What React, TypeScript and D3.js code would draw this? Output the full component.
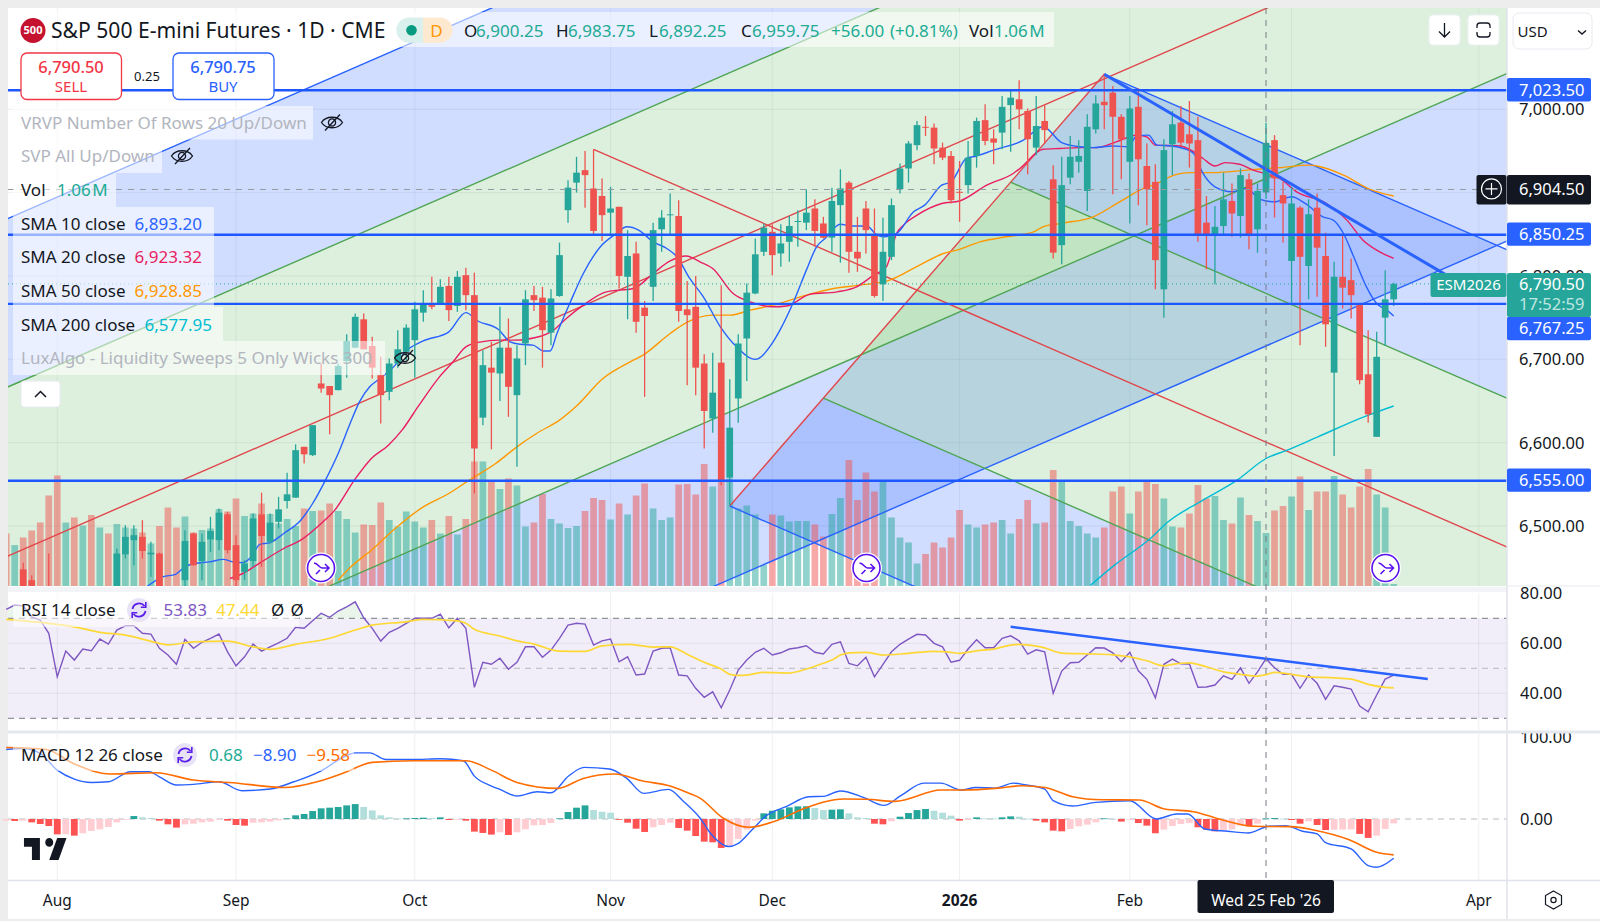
import * as d3 from "d3"

// daily bars, Aug 2025 to Mar 2026
const opens = [6420,6400,6448,6435,6415,6420,6405,6385,6400,6390,6410,6400,6420,6423,6466,6483,6487,6466,6467,6425,6420,6435,6491,6458,6484,6483,6514,6477,6445,6458,6514,6481,6505,6530,6534,6595,6585,6671,6668,6663,6698,6714,6748,6716,6681,6661,6695,6709,6723,6756,6765,6766,6788,6764,6801,6777,6630,6690,6683,6714,6657,6719,6777,6774,6732,6776,6879,6912,6927,6905,6896,6876,6883,6799,6827,6762,6787,6856,6873,6872,6760,6763,6695,6629,6696,6558,6653,6725,6779,6829,6853,6827,6841,6865,6864,6881,6863,6846,6885,6912,6829,6881,6848,6790,6823,6904,6929,6957,6979,6978,6954,6944,6901,6909,6944,6987,6965,6972,7005,7012,6998,6954,6986,6916,6837,6918,6937,6902,6976,7009,7020,6991,6937,7003,6932,6913,6784,6958,6984,6970,6963,6864,6850,6860,6890,6872,6916,6856,6900.25,6963,6897,6818,6882,6812,6882,6824,6684,6799,6795,6765,6682,6607,6750,6772]
const highs = [6425,6420,6456,6441,6420,6467,6415,6410,6405,6415,6420,6425,6425,6473,6501,6501,6507,6481,6468,6428,6425,6495,6492,6491,6511,6521,6517,6489,6459,6515,6540,6515,6535,6564,6598,6595,6621,6695,6668,6695,6730,6755,6755,6727,6703,6701,6735,6742,6769,6783,6799,6796,6799,6806,6810,6804,6711,6721,6763,6749,6717,6783,6788,6787,6784,6840,6915,6943,6950,6952,6917,6907,6883,6855,6841,6770,6864,6879,6899,6891,6794,6800,6706,6708,6789,6676,6730,6791,6845,6863,6862,6862,6872,6879,6904,6892,6871,6906,6928,6914,6871,6890,6881,6870,6893,6935,6962,6986,6992,6983,6960,6950,6938,6962,6990,7006,6976,7016,7024,7035,7001,7016,7005,6933,6943,6968,6963,6994,7017,7043,7028,6994,7016,7025,6959,6934,6964,6998,7004,7010,6991,6896,6884,6924,6911,6929,6923,6911,6983.75,6969,6913,6907,6884,6892,6899,6852,6817,6851,6821,6767,6735,6733,6807,6792]
const lows = [6395,6395,6411,6400,6390,6390,6380,6380,6380,6385,6395,6395,6400,6415,6461,6453,6461,6439,6410,6400,6400,6420,6452,6435,6469,6471,6467,6420,6435,6451,6451,6479,6497,6521,6534,6575,6584,6660,6610,6663,6678,6714,6712,6677,6623,6651,6690,6699,6678,6745,6760,6766,6746,6757,6759,6539,6621,6592,6650,6631,6571,6693,6758,6690,6717,6775,6864,6900,6882,6849,6842,6849,6785,6748,6732,6655,6770,6829,6849,6745,6669,6657,6593,6612,6549,6525,6624,6674,6778,6824,6801,6811,6817,6835,6855,6835,6845,6829,6816,6804,6805,6827,6774,6770,6819,6899,6912,6951,6968,6934,6939,6887,6865,6899,6930,6957,6934,6952,6949,6976,6922,6945,6959,6821,6814,6910,6924,6878,6971,6976,6898,6916,6863,6885,6861,6784,6750,6921,6956,6930,6841,6808,6790,6848,6847,6846,6832,6828,6892.25,6870,6840,6766,6717,6772,6775,6715,6584,6761,6749,6670,6624,6607,6716,6764]
const closes = [6405,6415,6423,6411,6400,6400,6390,6400,6390,6410,6400,6420,6405,6467,6487,6489,6470,6468,6423,6410,6405,6482,6453,6481,6494,6516,6471,6435,6455,6509,6488,6504,6520,6538,6591,6586,6621,6665,6657,6692,6722,6751,6712,6690,6657,6695,6712,6738,6760,6766,6763,6787,6759,6799,6777,6593,6693,6684,6714,6667,6701,6772,6771,6735,6773,6825,6906,6924,6921,6854,6873,6881,6800,6824,6745,6752,6855,6870,6874,6758,6753,6690,6638,6660,6553,6618,6719,6780,6826,6858,6825,6839,6860,6866,6876,6854,6846,6890,6905,6829,6821,6855,6776,6829,6885,6929,6959,6981,6978,6953,6942,6891,6900,6942,6986,6962,6960,7003,7014,7000,6964,6980,6975,6828,6909,6943,6944,6979,7007,7005,6991,6964,7001,6940,6904,6819,6951,6982,6960,6959,6848,6848,6859,6892,6875,6921,6849,6902,6959.75,6917,6887,6887,6823,6874,6834,6742,6799,6786,6777,6675,6634,6703,6772,6790.5]
// volume in millions
const volumes = [1.05,.82,.97,1.11,1.27,1.81,2.21,1.27,1.37,1.21,1.42,1.17,1.05,1.24,1.17,1.15,1.07,.85,1.2,1.57,1.17,1.39,1.07,1.12,1.15,1.54,1.49,1.75,1.4,1.45,1.65,1.44,1.25,1.34,1.2,1.55,1.5,1.51,1.65,1.5,1.34,1.07,1.23,1.22,1.67,1.32,1.19,1.49,1.29,1.17,1.32,1.05,1.4,1.03,1.34,2.49,2.49,2.09,1.94,2.15,2.01,1.19,1.27,1.84,1.34,1.25,1.16,1.2,1.5,1.76,1.72,1.33,1.65,1.43,1.81,2.05,1.55,1.32,1.37,2.03,2.04,1.83,2.44,1.99,2.12,2.15,1.55,1.61,1.43,.42,1.43,1.41,1.29,1.3,1.3,1.23,.99,1.44,1.76,2.52,1.72,2.27,1.89,2.11,1.37,.97,.87,.45,.64,.87,.77,.97,1.52,1.23,1.17,1.23,1.27,1.32,1.05,1.34,1.72,1.25,1.27,2.32,2.11,1.3,1.2,1.05,.97,1.17,1.89,1.99,1.45,1.89,2.09,2.04,1.75,1.19,1.17,1.45,2.02,1.75,1.8,1.32,1.25,1.77,1.42,1.3,1.06,1.51,1.6,1.79,2.19,1.52,1.89,1.89,2.2,1.83,1.57,1.99,2.34,1.83,1.57,.04]

// moving averages as [bar, value]
const sma10: [number, number][] = [[16,6423],[18.4,6439],[19.9,6442],[21,6451],[22.1,6455],[23.9,6457],[25.5,6460],[26.6,6457],[27.8,6456],[28.8,6463],[29.8,6478],[31,6480],[32.6,6491],[34.6,6507],[36,6527],[37.4,6553],[39,6587],[40.4,6623],[41.5,6649],[42.7,6667],[43.9,6677],[45.7,6693],[46.9,6709],[49,6722],[52,6733],[54,6756],[55.4,6746],[57.8,6736],[59.2,6721],[60.4,6718],[61.9,6717],[63.1,6710],[63.9,6710],[64.7,6731],[66.2,6767],[67.8,6803],[69.8,6835],[71.7,6851],[72.9,6859],[74.3,6855],[76,6841],[77.6,6833],[78.8,6823],[80.3,6797],[81.9,6775],[83.9,6739],[85.8,6715],[88,6700],[89.9,6718],[90.9,6735],[92.5,6769],[94,6807],[95.2,6835],[96.2,6845],[98,6862],[99.3,6860],[101.1,6860],[102.3,6849],[103.1,6847],[104.6,6851],[106.6,6877],[107.9,6885],[109.9,6909],[111,6913],[112.8,6941],[114,6944],[116,6951],[119.5,6963],[121.8,6979],[124,6960],[126.1,6955],[127.7,6954],[130,6956],[131.8,6955],[132.8,6968],[134.2,6969],[135.2,6957],[136.9,6956],[138.3,6953],[139.5,6947],[140.6,6923],[142,6907],[144,6901],[145.7,6905],[147.3,6892],[149,6889],[151,6895],[152.6,6887],[154.7,6871],[155.9,6867],[157.1,6851],[158.3,6823],[159.8,6787],[161,6767],[162.2,6759],[163,6752]]
const sma20: [number, number][] = [[26.3,6437],[27.8,6443],[30,6457],[32.6,6473],[34.6,6483],[37,6503],[38.6,6519],[40.9,6555],[42.9,6581],[44.9,6597],[46.5,6615],[48.5,6645],[50.9,6679],[52.5,6697],[54,6715],[55.8,6721],[57.8,6723],[59.6,6723],[62.9,6728],[64.3,6735],[65.8,6749],[67.8,6765],[70.5,6781],[73.7,6785],[76,6803],[78,6818],[79.9,6824],[81.5,6817],[83,6809],[85.4,6779],[87.4,6769],[90.1,6763],[91.7,6764],[94.4,6778],[97.6,6781],[99.9,6787],[101.9,6801],[103.4,6811],[104.6,6851],[105.4,6861],[107,6873],[109.9,6887],[112,6890],[115.2,6909],[118.3,6923],[119.1,6929],[121.8,6952],[123.8,6953],[126.1,6954],[128.1,6954],[130.4,6961],[132.8,6969],[134,6967],[135,6957],[137.9,6956],[139.5,6949],[140.6,6941],[142,6932],[143.2,6936],[144.9,6934],[146.5,6927],[148.5,6921],[149.6,6917],[151.6,6901],[155.1,6887],[157.5,6867],[159.4,6843],[161,6831],[163,6821]]
const sma50: [number, number][] = [[39,6435],[40.5,6451],[42.9,6471],[45.7,6497],[49,6523],[52,6539],[54.4,6555],[57.5,6575],[60,6595],[62.3,6611],[65,6627],[67,6644],[70.1,6677],[73.3,6697],[74.8,6705],[78,6731],[79.9,6744],[83,6753],[85,6753],[87.4,6759],[90.1,6765],[94,6777],[97.2,6785],[100.3,6789],[103.8,6795],[107.3,6813],[110.1,6827],[112,6832],[114.4,6841],[117.5,6847],[120.7,6853],[121.8,6859],[123.8,6863],[127.7,6871],[130.8,6889],[133.6,6905],[135.2,6911],[136.7,6919],[139.1,6924],[141.8,6924],[145.7,6927],[149.6,6930],[153.2,6933],[154,6932],[157.1,6921],[160.2,6904],[163,6896]]
const sma200: [number, number][] = [[127.4,6429],[130.2,6453],[134.3,6484],[136.5,6505],[140.6,6531],[144.6,6555],[148,6581],[150.5,6591],[154.1,6607],[159.5,6631],[163,6644]]

const rsi = [73.6,75.3,75,70.6,69.3,64,46.6,56.9,53.3,57.7,57,61.7,59.7,65.3,67,67,64,63.7,58,55.3,51.6,61.6,58,60.4,62,63.7,56.6,51,54.6,59.7,56.9,58.6,60.2,62,66.4,66,69,72,70.4,72.9,74.6,76.6,70.2,66,60.9,64.4,66,68,70,70,70,71.7,66.2,70,66,42.4,52.4,51.6,54,49.6,52.4,58.6,58.6,54.4,57.3,62,67.3,68,67.7,59.3,61,61.7,52.6,54.6,47.3,47.7,56.9,58,58.2,47.3,47,42,38.4,40.6,34.2,41.3,49.3,53.3,56.4,58,55.3,56.2,57.7,58.2,59,56.4,55.7,59.6,60.6,52,51,54.4,46.6,51.6,56.6,59.6,61.7,63.6,63.3,60,58.6,52.4,53.2,57.7,61.4,58.2,58.2,62,63,61,55.7,57.4,56.6,40,48.9,52.2,52.4,55.3,58.2,58.1,56.2,52.6,56.4,49,45.6,38.2,51.6,53.7,51.8,51.7,42.4,42.5,43.3,47,45.6,50.2,44,48.6,53.83,50.2,47.6,47.6,42,47.3,44,37.6,43,42.4,41.7,34.9,32.6,39.3,45.7,47.3]
const rsiMa: [number, number][] = [[0,69.6],[5,68],[8,66.6],[11,64.4],[14,63.3],[18,60],[19,59.4],[22,60.6],[26,60.9],[29,58.6],[31,57.6],[34,59.6],[38,62],[41,65.3],[43,67.3],[47,68.6],[49,69.6],[53,69],[54,68],[55,65.6],[58,62.9],[60,61],[62,59.7],[65,56.9],[68,56.8],[70,59],[73,59.6],[76,58.5],[78,58.6],[80,55.6],[82,52.4],[84,49.7],[85,47.6],[86,47.2],[87,47.3],[89,48.4],[92,48.1],[94,49.7],[96,52],[97,53.3],[98,55.3],[99,56.2],[101,56.4],[103,55.3],[106,56],[109,56.8],[111,56.4],[112,56],[114,57],[116,57.7],[118,59.3],[119,59.6],[121,58.9],[122,58.2],[124,56.1],[127,55.8],[130,55.4],[132,54.6],[134,53],[136,51],[137,51.6],[139,52.2],[141,50.6],[143,48.6],[145,47.6],[147,46.9],[148,47.44],[149,48.4],[151,47.6],[153,46.6],[156,46.2],[158,45.7],[160,43.6],[162,42.4],[163,42.2]]

const macdLine: [number, number][] = [[0,84.8],[2,86],[4,79.9],[6,59.6],[8,48.7],[10,44.6],[12,45.4],[14.6,57.6],[16.8,57.6],[18,51.5],[20,41.4],[22,42.2],[25,45.4],[27.7,34.5],[31,36.5],[33.8,45.4],[37,58.8],[39.7,75.9],[41,80.7],[42.7,80.7],[44.6,72.6],[47.8,72.6],[51,73.4],[53.7,71],[55,52.3],[57,40.2],[58,36.1],[60,28],[62.4,33.3],[64,32],[66.1,52.7],[67.9,62.9],[70.9,60.9],[72.9,49.5],[74.9,31.3],[77.8,36.1],[79.6,21.1],[81.5,1.2],[82.8,-18.2],[84.9,-33.6],[85.9,-30.4],[87.6,-13.4],[89.3,4.1],[91.6,15],[94.3,27.2],[96,27.6],[98,34.1],[100.7,26.4],[103.1,16.6],[105.1,28.4],[107.8,43.8],[109.8,43.8],[112.2,35.3],[113.9,38.5],[116.2,37.7],[118.3,43.8],[119.6,41.8],[122,36.5],[123,22.3],[125.3,15.8],[128,20.3],[132,22.3],[135.1,0],[137.5,6.1],[138.8,6.1],[140.8,-12.2],[143.5,-15],[145.9,-17],[148.3,-8.9],[150.3,-8.1],[152.3,-15],[154,-18.2],[155,-28.8],[158,-36.5],[160,-56.8],[161,-58.8],[163,-47.9]]
const macdSignal: [number, number][] = [[0,87.2],[4.7,84.8],[7.9,67.7],[12.2,54.8],[17.6,56.4],[22,47.5],[26.2,44.6],[32.7,38.5],[36.5,45.4],[39.7,56.4],[43,69],[47.8,71],[54,71],[57,59.6],[60,44.6],[64.8,37.3],[67.8,49.5],[71.5,54.8],[74.8,46.3],[78,40.2],[80.2,31.3],[81.5,25.5],[84.2,1.2],[87.2,-10.1],[90.3,-2.8],[93.6,12.2],[98.4,24.3],[101,24],[104.4,21.5],[109.8,35.3],[112.5,35.3],[116.6,37.7],[119.3,40.6],[122,38.5],[125.3,27.2],[128.7,23.5],[133.1,23.1],[136.1,12.2],[139.5,8.9],[142.5,0],[146.6,-8.9],[151,-9.3],[153.6,-13.4],[157.7,-25.1],[161,-40.6],[163,-43.8]]
const macdHist = [-2,-2.4,-2,-4.1,-6.1,-8.5,-18.7,-18.6,-20.3,-17.4,-14.6,-12.6,-9.7,-4.1,-.8,3.6,2,1.2,-2,-6.5,-10.5,-6.5,-5.7,-4.1,-3.2,-.4,-2,-7.3,-8.1,-4.5,-4.1,-3.2,-1.6,.8,4.5,6.1,9.7,13,13.8,14.6,16.6,18.2,14.6,10.5,4.5,2,.6,.8,1.2,1.6,1.2,2,-1.2,-.4,-2,-15.4,-17,-19,-16.2,-19.5,-16.2,-12.6,-7.7,-7.3,-4.9,.8,8.5,13.8,16.6,10.9,8.9,7.7,-.4,-4.5,-11.8,-15.8,-10.1,-7.3,-4.5,-10.9,-14.2,-20.7,-27.6,-28.4,-35.3,-32.4,-24.3,-13,-2,6.9,10.1,11.8,14.2,15.4,15.5,13.4,10.9,11.4,11.8,6.9,2,1.2,-5.7,-6.5,-2.8,2.8,7.3,10.9,12.2,10.1,7.7,4.1,-2,-1.2,2,.8,.7,2,3.2,2.8,.4,-2,-4.1,-14.2,-15,-12.2,-8.9,-6.9,-4.1,.8,.3,-3.2,-.8,-4.9,-8.1,-17.4,-13,-8.5,-6.1,-4.9,-10.1,-13,-15,-13.4,-12.6,-8.1,-8.9,-5.7,.68,1.2,.4,-1.2,-5.7,-2.8,-7.3,-13.4,-13,-12.9,-12.8,-18.2,-23.1,-20.3,-12.2,-5.3]

// drawing tools, anchors in bar / price
const levels = [7023.5, 6850.25, 6767.25, 6555]
const priceTicks = [7000, 6900, 6800, 6700, 6600, 6500]
const timeTicks: [number, string][] = [[6,"Aug"],[27,"Sep"],[48,"Oct"],[71,"Nov"],[90,"Dec"],[112,"2026"],[132,"Feb"],[151,"Mar"],[173,"Apr"]]
const forkPivot: [number, number] = [69, 6952]
const forkHigh: [number, number] = [129, 7042]
const forkLow: [number, number] = [85, 6524]
const channelOffsets = [405, 203, 0, -204, -405]
const priceTrend: [number, number][] = [[129, 7042], [169.6, 6798.6]]
const rsiTrend: [number, number][] = [[118, 66.6], [167, 45.7]]

const FONT = "'Noto Sans', sans-serif"
const UP = "#26a69a"
const DOWN = "#ef5350"
const BLUE = "#2962ff"
const LEVEL_BLUE = "#1c57ff"
const INK = "#131722"
const FILL_BLUE = "rgba(41,98,255,0.22)"
const FILL_GREEN = "rgba(76,175,80,0.19)"
const FORK_RED = "#e0474c"
const FORK_GREEN = "#4fa553"

const paneLeft = 8
const paneRight = 1507
const mainBottom = 586
const crossBar = 148

const x = d3.scaleLinear().domain([0, 163]).range([6.2, 1393.7])
const y = d3.scaleLinear().domain([6500, 7000]).range([526, 109.3])
const yVol = d3.scaleLinear().domain([0, 1]).range([mainBottom, mainBottom - 50])
const yRsi = d3.scaleLinear().domain([30, 70]).range([718.3, 618.3])
const yMacd = d3.scaleLinear().domain([0, 100]).range([819, 737])

const priceLine = d3.line<[number, number]>().x((d) => x(d[0])).y((d) => y(d[1]))
const smaLine = d3.line<[number, number]>().x((d) => x(d[0])).y((d) => y(d[1])).curve(d3.curveMonotoneX)
const rsiLine = d3.line<[number, number]>().x((d) => x(d[0])).y((d) => yRsi(d[1]))
const rsiMaLine = d3.line<[number, number]>().x((d) => x(d[0])).y((d) => yRsi(d[1])).curve(d3.curveMonotoneX)
const macdPath = d3.line<[number, number]>().x((d) => x(d[0])).y((d) => yMacd(d[1])).curve(d3.curveMonotoneX)
const rsiSeries = rsi.map((v, i) => [i, v] as [number, number])
const rsiArea = d3.area<[number, number]>().x((d) => x(d[0])).y0(yRsi(70)).y1((d) => yRsi(d[1]))

// rising channel, bands run parallel to the median
const channelMid = d3.scaleLinear().domain([0, 148]).range([6463, 7121])
const channelPt = (bar: number, off: number): [number, number] => [x(bar), y(channelMid(bar) + off)]
const channelBand = (a: number, b: number) =>
  [channelPt(-2, a), channelPt(178, a), channelPt(178, b), channelPt(-2, b)].map((p) => p.join(",")).join(" ")

// pitchfork off the November high
const px = (p: [number, number]): [number, number] => [x(p[0]), y(p[1])]
const pP = px(forkPivot)
const pA = px(forkHigh)
const pB = px(forkLow)
const mid = (a: number[], b: number[]): [number, number] => [(a[0] + b[0]) / 2, (a[1] + b[1]) / 2]
const pM = mid(pA, pB)
const pI1 = mid(pA, pM)
const pI2 = mid(pM, pB)
const slope = (pM[1] - pP[1]) / (pM[0] - pP[0])
const ext = (p: number[]): [number, number] => [paneRight + 5, p[1] + slope * (paneRight + 5 - p[0])]
const poly = (...pts: number[][]) => pts.map((p) => p.join(",")).join(" ")

const fmt = d3.format(",.2f")

function EyeOff({ cx, cy }: { cx: number; cy: number }) {
  return (
    <g transform={`translate(${cx},${cy})`} fill="none" stroke={INK} strokeWidth={1.3}>
      <path d="M-10.5 0C-6 -7 6 -7 10.5 0C6 7 -6 7 -10.5 0Z" />
      <circle r={3.6} />
      <path d="M-7 8L8 -8" />
    </g>
  )
}

function Spin({ cx, cy }: { cx: number; cy: number }) {
  return (
    <g transform={`translate(${cx},${cy})`} fill="none">
      <circle r={12} fill="#e9e3f8" />
      <path d="M-6.5 -1A6.8 6.8 0 0 1 5.5 -4M6.5 1A6.8 6.8 0 0 1 -5.5 4" stroke="#5a1fe8" strokeWidth={1.8} />
      <path d="M6.8 -8V-2.8H1.8M-6.8 8V2.8H-1.8" stroke="#5a1fe8" strokeWidth={1.6} />
    </g>
  )
}

function Jump({ cx, cy }: { cx: number; cy: number }) {
  return (
    <g transform={`translate(${cx},${cy})`} fill="none">
      <circle r={14.5} fill="#fff" stroke="#fff" strokeWidth={2} />
      <circle r={13.5} stroke="#5a12ee" strokeWidth={1.6} />
      <path d="M-7 -5C-3 -5 -2 0 1 0H8M4 -4L8 0L4 4M-5 6L-1 2" stroke="#5a12ee" strokeWidth={1.6} />
    </g>
  )
}

function Tag({ value, cy, fill = BLUE }: { value: string; cy: number; fill?: string }) {
  return (
    <g>
      <rect x={paneRight} y={cy - 11.7} width={84} height={23.4} rx={2} fill={fill} />
      <text x={1519} y={cy} dy="0.36em" fontSize={16.5} fill="#fff">{value}</text>
    </g>
  )
}

export default function App() {
  const crossX = x(crossBar)
  const crossY = y(6904.5)
  const lastY = y(6790.5)
  return (
    <svg width={1600} height={921} fontFamily={FONT} style={{ position: "absolute", left: 0, top: 0, display: "block" }}>
      <defs>
        <clipPath id="main"><rect x={paneLeft} y={8} width={paneRight - paneLeft} height={mainBottom - 8} /></clipPath>
        <clipPath id="over70"><rect x={paneLeft} y={593} width={paneRight - paneLeft} height={yRsi(70) - 593} /></clipPath>
      </defs>
      <rect width={1600} height={921} fill="#ededed" />
      <rect x={paneLeft} y={8} width={1600} height={911} fill="#fff" />

      {/* main pane */}
      <g clipPath="url(#main)">
        {priceTicks.map((t) => (
          <line key={t} x1={paneLeft} x2={paneRight} y1={y(t)} y2={y(t)} stroke="#2a2e39" strokeOpacity={0.07} />
        ))}
        {timeTicks.map(([b]) => (
          <line key={b} x1={x(b)} x2={x(b)} y1={8} y2={mainBottom} stroke="#2a2e39" strokeOpacity={0.07} />
        ))}

        <polygon points={channelBand(channelOffsets[0], channelOffsets[1])} fill={FILL_BLUE} />
        <polygon points={channelBand(channelOffsets[1], channelOffsets[3])} fill={FILL_GREEN} />
        <polygon points={channelBand(channelOffsets[3], channelOffsets[4])} fill={FILL_BLUE} />
        <polygon points={poly(pA, pI1, ext(pI1), ext(pA))} fill={FILL_BLUE} />
        <polygon points={poly(pI1, pI2, ext(pI2), ext(pI1))} fill={FILL_GREEN} />
        <polygon points={poly(pI2, pB, ext(pB), ext(pI2))} fill={FILL_BLUE} />

        {volumes.map((v, i) => (
          <rect key={i} x={x(i) - 3.35} y={yVol(v)} width={6.7} height={mainBottom - yVol(v)}
            fill={closes[i] >= opens[i] ? UP : DOWN} fillOpacity={0.5} />
        ))}

        {/* drawing outlines */}
        {channelOffsets.map((off, i) => (
          <line key={off} x1={channelPt(-2, off)[0]} y1={channelPt(-2, off)[1]} x2={channelPt(178, off)[0]} y2={channelPt(178, off)[1]}
            stroke={i === 2 ? FORK_RED : i === 0 || i === 4 ? BLUE : FORK_GREEN} strokeWidth={1.4} />
        ))}
        <line x1={pA[0]} y1={pA[1]} x2={pB[0]} y2={pB[1]} stroke={FORK_RED} strokeWidth={1.4} />
        <line x1={pP[0]} y1={pP[1]} x2={ext(pM)[0]} y2={ext(pM)[1]} stroke={FORK_RED} strokeWidth={1.4} />
        <line x1={pI1[0]} y1={pI1[1]} x2={ext(pI1)[0]} y2={ext(pI1)[1]} stroke={FORK_GREEN} strokeWidth={1.4} />
        <line x1={pI2[0]} y1={pI2[1]} x2={ext(pI2)[0]} y2={ext(pI2)[1]} stroke={FORK_GREEN} strokeWidth={1.4} />
        <line x1={pA[0]} y1={pA[1]} x2={ext(pA)[0]} y2={ext(pA)[1]} stroke={BLUE} strokeWidth={1.4} />
        <line x1={pB[0]} y1={pB[1]} x2={ext(pB)[0]} y2={ext(pB)[1]} stroke={BLUE} strokeWidth={1.4} />

        <path d={smaLine(sma200) || ""} fill="none" stroke="#00bcd4" strokeWidth={1.4} />
        <path d={smaLine(sma50) || ""} fill="none" stroke="#ff9800" strokeWidth={1.4} />
        <path d={smaLine(sma20) || ""} fill="none" stroke="#e91e63" strokeWidth={1.4} />
        <path d={smaLine(sma10) || ""} fill="none" stroke={BLUE} strokeWidth={1.4} />

        {closes.map((c, i) => {
          const col = c >= opens[i] ? UP : DOWN
          const top = y(Math.max(c, opens[i]))
          const bot = y(Math.min(c, opens[i]))
          return (
            <g key={i}>
              <line x1={x(i)} x2={x(i)} y1={y(highs[i])} y2={y(lows[i])} stroke={col} strokeWidth={1.3} />
              <rect x={x(i) - 3.35} y={top} width={6.7} height={Math.max(bot - top, 1)} fill={col} />
            </g>
          )
        })}

        {levels.map((l) => (
          <line key={l} x1={paneLeft} x2={paneRight} y1={y(l) + 0.6} y2={y(l) + 0.6} stroke={LEVEL_BLUE} strokeWidth={2.4} />
        ))}
        <path d={priceLine(priceTrend) || ""} stroke={BLUE} strokeWidth={3} fill="none" />
        <line x1={paneLeft} x2={1430} y1={lastY} y2={lastY} stroke={UP} strokeWidth={1} strokeDasharray="1 3" />
        <line x1={paneLeft} x2={paneRight} y1={crossY + 0.6} y2={crossY + 0.6} stroke="#9598a1" strokeWidth={1} strokeDasharray="6 6" />
      </g>

      {/* pane dividers */}
      <rect x={paneLeft} y={587} width={1592} height={5} fill="#f3f4f8" />
      <rect x={paneLeft} y={730.5} width={1592} height={3} fill="#e6e8f0" />
      <line x1={paneLeft} x2={1600} y1={880.5} y2={880.5} stroke="#e0e3eb" strokeWidth={1.5} />

      {/* RSI */}
      <rect x={paneLeft} y={yRsi(70)} width={paneRight - paneLeft} height={yRsi(30) - yRsi(70)} fill="#7e57c2" fillOpacity={0.1} />
      {[60, 40].map((t) => (
        <line key={t} x1={paneLeft} x2={paneRight} y1={yRsi(t)} y2={yRsi(t)} stroke="#2a2e39" strokeOpacity={0.07} />
      ))}
      {timeTicks.map(([b]) => (
        <g key={b} stroke="#2a2e39" strokeOpacity={0.07}>
          <line x1={x(b)} x2={x(b)} y1={593} y2={730} />
          <line x1={x(b)} x2={x(b)} y1={734} y2={880} />
        </g>
      ))}
      {[70, 50, 30].map((t) => (
        <line key={t} x1={paneLeft} x2={paneRight} y1={yRsi(t)} y2={yRsi(t)} stroke={t === 50 ? "#b8bac2" : "#787b86"} strokeDasharray="6 5" />
      ))}
      <path d={rsiArea(rsiSeries) || ""} fill="#4caf50" fillOpacity={0.12} clipPath="url(#over70)" />
      <path d={rsiLine(rsiSeries) || ""} fill="none" stroke="#7e57c2" strokeWidth={1.4} />
      <path d={rsiMaLine(rsiMa) || ""} fill="none" stroke="#fdd835" strokeWidth={1.7} />
      <path d={rsiLine(rsiTrend) || ""} fill="none" stroke={BLUE} strokeWidth={2.4} />

      {/* MACD */}
      <line x1={paneLeft} x2={paneRight} y1={yMacd(0)} y2={yMacd(0)} stroke="#b8bac2" strokeDasharray="6 5" />
      {macdHist.map((h, i) => {
        const prev = i > 0 ? macdHist[i - 1] : h
        const col = h >= 0 ? (h > prev ? "#26a69a" : "#b2dfdb") : (h < prev ? "#ff5252" : "#ffcdd2")
        const a = yMacd(Math.max(h, 0))
        const b = yMacd(Math.min(h, 0))
        return <rect key={i} x={x(i) - 3.4} y={a} width={6.8} height={Math.max(b - a, 0.8)} fill={col} />
      })}
      <path d={macdPath(macdLine) || ""} fill="none" stroke={BLUE} strokeWidth={1.4} />
      <path d={macdPath(macdSignal) || ""} fill="none" stroke="#ff6d00" strokeWidth={1.6} />
      <path d="M14 6H2v6h6v9h6V6Zm14 15h-7l6-15h7l-6 15Zm-7-9a3 3 0 1 0 0-6 3 3 0 0 0 0 6Z" fill={INK}
        transform="translate(21.3,829.2) scale(1.33,1.47)" />

      {/* crosshair */}
      <line x1={crossX} x2={crossX} y1={8} y2={880} stroke="#787b86" strokeWidth={1} strokeDasharray="6 6" />

      {/* legend backdrops */}
      <g fill="#fff" fillOpacity={0.55}>
        <rect x={13} y={12} width={1041} height={35} />
        <rect x={13} y={106} width={300} height={33.5} />
        <rect x={13} y={139.5} width={149} height={33.5} />
        <rect x={13} y={173} width={103} height={34} />
        <rect x={13} y={207} width={201} height={100} />
        <rect x={13} y={307} width={210} height={34} />
        <rect x={13} y={341} width={372} height={34} />
        <rect x={13} y={594} width={286} height={33} />
        <rect x={13} y={738} width={341} height={33} />
      </g>

      {/* title row */}
      <circle cx={33} cy={30.5} r={12.5} fill="#c4122f" />
      <text x={33} y={30.5} dy="0.36em" textAnchor="middle" fontSize={11} fontWeight={700} fill="#fff">500</text>
      <text x={51} y={30.5} dy="0.36em" fontSize={21.1} fill={INK}>S&amp;P 500 E-mini Futures · 1D · CME</text>
      <path d="M423 17.5H409a12.6 12.6 0 0 0 0 25.2H423Z" fill="#d9f0ec" />
      <path d="M423 17.5H440a12.6 12.6 0 0 1 0 25.2H423Z" fill="#fde9d0" />
      <circle cx={411.5} cy={30.3} r={5.3} fill="#089981" />
      <text x={436.5} y={30.5} dy="0.36em" textAnchor="middle" fontSize={17} fill="#ff9800">D</text>
      <g fontSize={17} fill={INK}>
        <text x={464} y={30.5} dy="0.36em">O</text>
        <text x={556} y={30.5} dy="0.36em">H</text>
        <text x={649} y={30.5} dy="0.36em">L</text>
        <text x={741} y={30.5} dy="0.36em">C</text>
        <text x={969} y={30.5} dy="0.36em">Vol</text>
      </g>
      <g fontSize={17} fill="#22ab94">
        <text x={476} y={30.5} dy="0.36em">{fmt(opens[crossBar])}</text>
        <text x={568} y={30.5} dy="0.36em">{fmt(highs[crossBar])}</text>
        <text x={659} y={30.5} dy="0.36em">{fmt(lows[crossBar])}</text>
        <text x={752} y={30.5} dy="0.36em">{fmt(closes[crossBar])}</text>
        <text x={831} y={30.5} dy="0.36em">+56.00</text>
        <text x={890} y={30.5} dy="0.36em">(+0.81%)</text>
        <text x={994} y={30.5} dy="0.36em">1.06<tspan dx={1.5}>M</tspan></text>
      </g>

      {/* sell / buy */}
      <rect x={21} y={53} width={100.5} height={46.5} rx={6} fill="#fff" stroke="#f23645" strokeWidth={1.3} />
      <text x={71} y={67} dy="0.36em" textAnchor="middle" fontSize={16.5} fontWeight={500} fill="#f23645">6,790.50</text>
      <text x={71} y={87} dy="0.36em" textAnchor="middle" fontSize={15} fill="#f23645">SELL</text>
      <text x={147} y={76.5} dy="0.36em" textAnchor="middle" fontSize={13} fill={INK}>0.25</text>
      <rect x={173} y={53} width={101} height={46.5} rx={6} fill="#fff" stroke={BLUE} strokeWidth={1.3} />
      <text x={223} y={67} dy="0.36em" textAnchor="middle" fontSize={16.5} fontWeight={500} fill={BLUE}>6,790.75</text>
      <text x={223} y={87} dy="0.36em" textAnchor="middle" fontSize={15} fill={BLUE}>BUY</text>

      {/* indicator legend */}
      <g fontSize={17}>
        <text x={21} y={122.5} dy="0.36em" fill="#b2b5be">VRVP Number Of Rows 20 Up/Down</text>
        <EyeOff cx={332} cy={122.5} />
        <text x={21} y={156} dy="0.36em" fill="#b2b5be">SVP All Up/Down</text>
        <EyeOff cx={182} cy={156} />
        <text x={21} y={190} dy="0.36em" fill={INK}>Vol</text>
        <text x={57} y={190} dy="0.36em" fill="#22ab94">1.06<tspan dx={1.5}>M</tspan></text>
        <text x={21} y={223.5} dy="0.36em" fill={INK}>SMA 10 close</text>
        <text x={134.5} y={223.5} dy="0.36em" fill={BLUE}>6,893.20</text>
        <text x={21} y={257} dy="0.36em" fill={INK}>SMA 20 close</text>
        <text x={134.5} y={257} dy="0.36em" fill="#e91e63">6,923.32</text>
        <text x={21} y={290.5} dy="0.36em" fill={INK}>SMA 50 close</text>
        <text x={134.5} y={290.5} dy="0.36em" fill="#ff9800">6,928.85</text>
        <text x={21} y={324.5} dy="0.36em" fill={INK}>SMA 200 close</text>
        <text x={144.5} y={324.5} dy="0.36em" fill="#00bcd4">6,577.95</text>
        <text x={21} y={358} dy="0.36em" fill="#b2b5be">LuxAlgo - Liquidity Sweeps 5 Only Wicks 300</text>
        <EyeOff cx={405} cy={358} />
        <text x={21} y={610} dy="0.36em" fill={INK}>RSI 14 close</text>
        <text x={163.5} y={610} dy="0.36em" fill="#7e57c2">53.83</text>
        <text x={216} y={610} dy="0.36em" fill="#fdd835">47.44</text>
        <text x={271} y={610} dy="0.36em" fill={INK}>Ø</text>
        <text x={290.5} y={610} dy="0.36em" fill={INK}>Ø</text>
        <text x={21} y={755} dy="0.36em" fill={INK}>MACD 12 26 close</text>
        <text x={209} y={755} dy="0.36em" fill="#22ab94">0.68</text>
        <text x={253} y={755} dy="0.36em" fill={BLUE}>−8.90</text>
        <text x={306.5} y={755} dy="0.36em" fill="#ff6d00">−9.58</text>
      </g>
      <Spin cx={139} cy={610} />
      <Spin cx={185} cy={755} />
      <rect x={21} y={381} width={39} height={26} rx={3} fill="#fff" stroke="#e8eaf0" />
      <path d="M35 397L40.5 391.5L46 397" fill="none" stroke={INK} strokeWidth={1.5} />

      <Jump cx={321} cy={568} />
      <Jump cx={866.5} cy={568} />
      <Jump cx={1385.5} cy={568} />

      {/* top right buttons */}
      <rect x={1429} y={15} width={31} height={30} rx={4} fill="#fff" stroke="#eef0f4" />
      <path d="M1444.5 23V37M1439 31.5L1444.5 37L1450 31.5" fill="none" stroke={INK} strokeWidth={1.3} />
      <rect x={1468} y={15} width={31} height={30} rx={4} fill="#fff" stroke="#eef0f4" />
      <path d="M1477 28V26a3 3 0 0 1 3 -3H1487a3 3 0 0 1 3 3V28M1477 32V34a3 3 0 0 0 3 3H1487a3 3 0 0 0 3 -3V32" fill="none" stroke={INK} strokeWidth={1.3} />

      {/* price axis */}
      <rect x={paneRight} y={8} width={93} height={911} fill="#fff" />
      <line x1={paneRight} x2={paneRight} y1={8} y2={919} stroke="#e0e3eb" strokeWidth={1.5} />
      <line x1={paneRight} x2={1600} y1={880.5} y2={880.5} stroke="#e0e3eb" strokeWidth={1.5} />
      <rect x={paneRight + 1} y={585} width={92} height={2} fill="#f3f4f8" />
      <rect x={1513} y={13} width={79} height={36} rx={6} fill="#fff" stroke="#e8eaf0" />
      <text x={1517.5} y={32} dy="0.36em" fontSize={15} fill={INK}>USD</text>
      <path d="M1578 30.5L1582 34L1586 30.5" fill="none" stroke={INK} strokeWidth={1.4} />
      <g fontSize={16.5} fill={INK}>
        {/* 6,900 sits under the crosshair tag in the source, so it gets no label */}
        {priceTicks.filter((t) => t !== 6900).map((t) => (
          <text key={t} x={1519} y={y(t)} dy="0.36em">{fmt(t)}</text>
        ))}
        {[80, 60, 40].map((t) => (
          <text key={t} x={1520} y={yRsi(t)} dy="0.36em">{fmt(t)}</text>
        ))}
        <text x={1520} y={yMacd(100)} dy="0.36em">{fmt(100)}</text>
        <text x={1520} y={yMacd(0)} dy="0.36em">{fmt(0)}</text>
      </g>
      <rect x={paneRight + 1} y={730.5} width={92} height={3} fill="#e6e8f0" />
      {levels.slice(0, 2).map((l) => <Tag key={l} value={fmt(l)} cy={y(l)} />)}
      <Tag value={fmt(levels[3])} cy={y(levels[3])} />
      <Tag value={fmt(levels[2])} cy={328.5} />
      <rect x={paneRight} y={273} width={84} height={44} rx={2} fill={UP} />
      <text x={1519} y={284.5} dy="0.36em" fontSize={16.5} fill="#fff">{fmt(closes[163])}</text>
      <text x={1519} y={304} dy="0.36em" fontSize={16.5} fill="#bfe6e2">17:52:59</text>
      <rect x={1430.5} y={273} width={76} height={24} rx={2} fill={UP} />
      <text x={1468.5} y={285} dy="0.36em" textAnchor="middle" fontSize={15} fill="#fff">ESM2026</text>
      <rect x={paneRight} y={175} width={84} height={29.5} rx={2} fill={INK} />
      <text x={1519} y={crossY} dy="0.36em" fontSize={16.5} fill="#fff">{fmt(6904.5)}</text>
      <rect x={1476.5} y={175} width={30} height={29.5} rx={2} fill={INK} />
      <circle cx={1491.5} cy={crossY} r={10} fill="none" stroke="#fff" strokeWidth={1.2} />
      <path d={`M1491.5 ${crossY - 6}V${crossY + 6}M1485.5 ${crossY}H1497.5`} stroke="#fff" strokeWidth={1.2} />

      {/* time axis, Mar is covered by the crosshair date */}
      <g fontSize={15.5} fill={INK} textAnchor="middle">
        {timeTicks.filter(([, label]) => label !== "Mar").map(([b, label]) => (
          <text key={b} x={x(b)} y={900} dy="0.36em" fontWeight={label === "2026" ? 700 : 400}>{label}</text>
        ))}
      </g>
      <rect x={1197.5} y={880} width={136.5} height={33} rx={2} fill={INK} />
      <text x={crossX} y={900} dy="0.36em" textAnchor="middle" fontSize={15.5} fill="#fff">Wed 25 Feb '26</text>
      <path d="M1553.5 891L1561.5 895.5V904.5L1553.5 909L1545.5 904.5V895.5Z" fill="none" stroke={INK} strokeWidth={1.2} />
      <circle cx={1553.5} cy={900} r={2.6} fill="none" stroke={INK} strokeWidth={1.2} />
    </svg>
  )
}
